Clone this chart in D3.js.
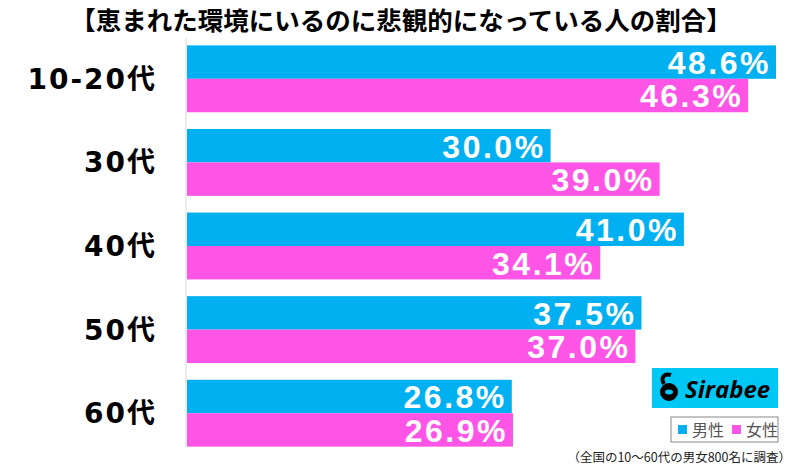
<!DOCTYPE html>
<html>
<head>
<meta charset="utf-8">
<script src="https://cdn.jsdelivr.net/npm/d3@7"></script>
<style>
  body { margin: 0; background: #fff; }
  svg { display: block; font-family: "Noto Sans CJK JP", "Noto Sans", sans-serif; }
</style>
</head>
<body>
<div id="chart"></div>
<script>
const title = '【恵まれた環境にいるのに悲観的になっている人の割合】'
const categories = ['10-20代', '30代', '40代', '50代', '60代']
const series = ['男性', '女性']
const male = [48.6, 30.0, 41.0, 37.5, 26.8]
const female = [46.3, 39.0, 34.1, 37.0, 26.9]
const colors = ['#00b0f0', '#ff55e6']
const note = '（全国の10〜60代の男女800名に調査）'

const width = 800
const height = 466
const margin = { top: 40, right: 20, bottom: 22, left: 187 }

const svg = d3.select('#chart').append('svg')
  .attr('width', width)
  .attr('height', height)

svg.append('text')
  .attr('x', 401)
  .attr('y', 30)
  .attr('text-anchor', 'middle')
  .attr('font-size', 25.5)
  .attr('font-weight', 'bold')
  .text(title)

const x = d3.scaleLinear()
  .domain([0, 48.6])
  .range([margin.left, 776])

const y = d3.scaleBand()
  .domain(categories)
  .range([37, 455])
  .paddingInner(0.2)
  .paddingOuter(0.1)

const inner = d3.scaleBand()
  .domain(series)
  .range([0, y.bandwidth()])

const rows = categories.map((c, i) => ({ cat: c, vals: [male[i], female[i]] }))

// axis line
svg.append('line')
  .attr('x1', margin.left - 1)
  .attr('x2', margin.left - 1)
  .attr('y1', 38)
  .attr('y2', 446)
  .attr('stroke', '#d9d9d9')
  .attr('stroke-width', 1)

const row = svg.selectAll('g.row')
  .data(rows)
  .enter()
  .append('g')
  .attr('class', 'row')
  .attr('transform', d => 'translate(0,' + y(d.cat) + ')')

row.append('text')
  .attr('x', 157)
  .attr('y', y.bandwidth() / 2)
  .attr('dy', '0.36em')
  .attr('text-anchor', 'end')
  .attr('font-size', 28)
  .attr('font-weight', 'bold')
  .attr('letter-spacing', 2)
  .attr('font-family', '"DejaVu Sans", "Noto Sans CJK JP", sans-serif')
  .text(d => d.cat)

const bar = row.selectAll('g.bar')
  .data(d => d.vals.map((v, j) => ({ s: series[j], v, j })))
  .enter()
  .append('g')
  .attr('class', 'bar')

bar.append('rect')
  .attr('x', x(0))
  .attr('y', d => inner(d.s))
  .attr('width', d => x(d.v) - x(0))
  .attr('height', inner.bandwidth())
  .attr('fill', d => colors[d.j])

bar.append('text')
  .attr('x', d => x(d.v) - 5)
  .attr('y', d => inner(d.s) + inner.bandwidth() / 2)
  .attr('dy', '0.37em')
  .attr('text-anchor', 'end')
  .attr('fill', '#fff')
  .attr('font-size', 32)
  .attr('font-weight', 'bold')
  .attr('letter-spacing', 2.5)
  .attr('font-family', '"Liberation Sans", Arial, sans-serif')
  .text(d => d.v.toFixed(1) + '%')

// logo
const logo = svg.append('g').attr('transform', 'translate(652,368)')
logo.append('rect')
  .attr('width', 126)
  .attr('height', 40)
  .attr('fill', '#00c8f5')
logo.append('circle').attr('cx', 17).attr('cy', 24).attr('r', 9).attr('fill', '#000')
logo.append('path')
  .attr('d', 'M12,16 C8,9 13,5 19,7')
  .attr('fill', 'none')
  .attr('stroke', '#000')
  .attr('stroke-width', 4)
logo.append('ellipse').attr('cx', 17).attr('cy', 24).attr('rx', 4).attr('ry', 2.5).attr('fill', '#00c8f5')
logo.append('text')
  .attr('x', 33)
  .attr('y', 30)
  .attr('font-size', 24)
  .attr('font-weight', 'bold')
  .attr('font-style', 'italic')
  .attr('font-family', '"Open Sans", "Noto Sans", sans-serif')
  .text('Sirabee')

// legend
const legend = svg.append('g').attr('transform', 'translate(671,417)')
legend.append('rect')
  .attr('width', 107)
  .attr('height', 25)
  .attr('fill', '#fff')
  .attr('stroke', '#888')
series.forEach((s, j) => {
  legend.append('rect')
    .attr('x', 7 + j * 54)
    .attr('y', 8)
    .attr('width', 9)
    .attr('height', 9)
    .attr('fill', colors[j])
  legend.append('text')
    .attr('x', 21 + j * 54)
    .attr('y', 19)
    .attr('font-size', 16)
    .attr('fill', '#555')
    .text(s)
})

svg.append('text')
  .attr('x', 791)
  .attr('y', 462)
  .attr('text-anchor', 'end')
  .attr('font-size', 12.5)
  .attr('fill', '#222')
  .text(note)
</script>
</body>
</html>
